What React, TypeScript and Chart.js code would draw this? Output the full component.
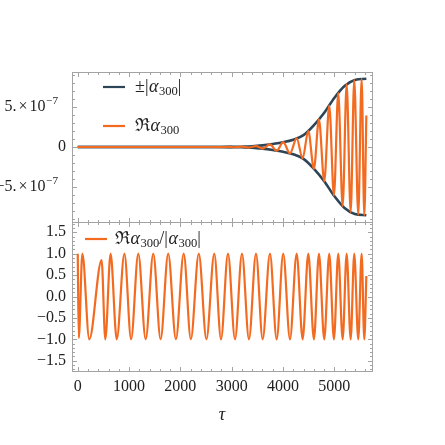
import React, { useEffect, useRef } from "react";
import { Chart, registerables } from "chart.js";
Chart.register(...registerables);

// ---------- data ----------
const TAU_MIN = -112;
const TAU_MAX = 5735;

// envelope |alpha_300|
const envTau = [0, 2800, 3000, 3200, 3400, 3600, 3800, 4000, 4200, 4400, 4600, 4800, 5000, 5200, 5400, 5625];
const envVal = [0, 0.005e-7, 0.02e-7, 0.04e-7, 0.08e-7, 0.2e-7, 0.38e-7, 0.6e-7, 0.92e-7, 1.48e-7, 2.7e-7, 4.25e-7, 6.15e-7, 7.65e-7, 8.4e-7, 8.55e-7];

// Re alpha_300 (turning points)
const reTau = [0, 2661, 2792, 2928, 3065, 3201, 3337, 3474, 3604, 3746, 3877, 4005, 4136, 4267, 4383, 4493, 4603, 4701, 4804, 4902, 4993, 5077, 5163, 5241, 5319, 5389, 5467, 5533, 5585, 5625];
const reVal = [0, 0, -0.005e-7, 0.01e-7, -0.03e-7, 0.04e-7, -0.07e-7, 0.12e-7, -0.2e-7, 0.33e-7, -0.47e-7, 0.61e-7, -0.8e-7, 1.08e-7, -1.42e-7, 2.0e-7, -2.72e-7, 3.45e-7, -4.28e-7, 5.2e-7, -6.08e-7, 6.75e-7, -7.4e-7, 7.85e-7, -8.15e-7, 8.38e-7, -8.47e-7, 8.52e-7, -8.54e-7, 3.96e-7];

// Re alpha_300 / |alpha_300| (turning points)
const ratioTau = [0, 20, 90, 225, 465, 537, 640, 760, 910, 1040, 1180, 1324, 1472, 1615, 1763, 1913, 2065, 2204, 2359, 2508, 2661, 2792, 2928, 3065, 3201, 3337, 3474, 3604, 3746, 3877, 4005, 4136, 4267, 4383, 4493, 4603, 4701, 4804, 4902, 4993, 5077, 5163, 5241, 5319, 5389, 5467, 5533, 5585, 5625];
const ratioVal = [1, -0.97, 1, -1, 0.85, -1, 1, -1, 1, -1, 1, -1, 1, -1, 1, -1, 1, -1, 1, -1, 1, -1, 1, -1, 1, -1, 1, -1, 1, -1, 1, -1, 1, -1, 1, -1, 1, -1, 1, -1, 1, -1, 1, -1, 1, -1, 1, -1, 0.48];

// ticks
const xMajor = [0, 1000, 2000, 3000, 4000, 5000];
const xMinor = [200, 400, 600, 800, 1200, 1400, 1600, 1800, 2200, 2400, 2600, 2800, 3200, 3400, 3600, 3800, 4200, 4400, 4600, 4800, 5200, 5400, 5600];
const xLabels = ["0", "1000", "2000", "3000", "4000", "5000"];

const topMajor = [-5e-7, 0, 5e-7];
const topMinor = [-9e-7, -8e-7, -7e-7, -6e-7, -4e-7, -3e-7, -2e-7, -1e-7, 1e-7, 2e-7, 3e-7, 4e-7, 6e-7, 7e-7, 8e-7, 9e-7];

const botMajor = [-1.5, -1, -0.5, 0, 0.5, 1, 1.5];
const botMinor = [-1.7, -1.6, -1.4, -1.3, -1.2, -1.1, -0.9, -0.8, -0.7, -0.6, -0.4, -0.3, -0.2, -0.1, 0.1, 0.2, 0.3, 0.4, 0.6, 0.7, 0.8, 0.9, 1.1, 1.2, 1.3, 1.4, 1.6, 1.7];
const botLabels = ["\u22121.5", "\u22121.0", "\u22120.5", "0.0", "0.5", "1.0", "1.5"];

// ---------- styling ----------
const DARK = "#2d4556";
const ORANGE = "#f36b21";
const FRAME = "#a3a3a3";
const TEXT = "#222222";
const FAM = '"Liberation Serif", "DejaVu Serif", serif';

type Seg = { t: string; it?: boolean; sub?: boolean; sup?: boolean; gap?: number };

function segFont(s: Seg, size: number) {
  const sz = s.sub || s.sup ? size * 0.7 : size;
  return `${s.it ? "italic " : ""}${sz}px ${FAM}`;
}
function mathWidth(ctx: CanvasRenderingContext2D, segs: Seg[], size: number) {
  let w = 0;
  for (const s of segs) {
    ctx.font = segFont(s, size);
    w += ctx.measureText(s.t).width + (s.gap || 0);
  }
  return w;
}
function drawMath(ctx: CanvasRenderingContext2D, x: number, y: number, segs: Seg[], size: number, align: string) {
  const w = mathWidth(ctx, segs, size);
  let cx = align === "left" ? x : align === "right" ? x - w : x - w / 2;
  ctx.textBaseline = "middle";
  ctx.textAlign = "left";
  ctx.fillStyle = TEXT;
  for (const s of segs) {
    ctx.font = segFont(s, size);
    const dy = s.sub ? size * 0.28 : s.sup ? -size * 0.38 : 0;
    ctx.fillText(s.t, cx, y + dy);
    cx += ctx.measureText(s.t).width + (s.gap || 0);
  }
}

const sub300: Seg = { t: "300", sub: true };
const alpha: Seg = { t: "\u03b1", it: true, gap: 0.5 };

const framePlugin = {
  id: "mframe",
  afterDatasetsDraw(chart: any, _args: any, opts: any) {
    const ctx: CanvasRenderingContext2D = chart.ctx;
    const a = chart.chartArea;
    const xs = chart.scales.x;
    const ys = chart.scales.y;
    ctx.save();
    ctx.strokeStyle = FRAME;
    ctx.lineWidth = 1;
    const L = Math.round(a.left) + 0.5, R = Math.round(a.right) + 0.5;
    const T = Math.round(a.top) + 0.5, B = Math.round(a.bottom) + 0.5;
    ctx.strokeRect(L, T, R - L, B - T);
    ctx.beginPath();
    const xt = (vals: number[], len: number) => {
      for (const v of vals) {
        const p = Math.round(xs.getPixelForValue(v)) + 0.5;
        ctx.moveTo(p, B); ctx.lineTo(p, B - len);
        ctx.moveTo(p, T); ctx.lineTo(p, T + len);
      }
    };
    const yt = (vals: number[], len: number) => {
      for (const v of vals) {
        const p = Math.round(ys.getPixelForValue(v)) + 0.5;
        ctx.moveTo(L, p); ctx.lineTo(L + len, p);
        ctx.moveTo(R, p); ctx.lineTo(R - len, p);
      }
    };
    xt(xMajor, 4.5); xt(xMinor, 2.5);
    yt(opts.yMajor, 4.5); yt(opts.yMinor, 2.5);
    ctx.stroke();

    // y labels
    opts.yLabels.forEach((lab: any, i: number) => {
      const p = ys.getPixelForValue(opts.yMajor[i]);
      drawMath(ctx, lab.x, p, lab.segs, 16, "right");
    });

    // x labels
    if (opts.xLabels) {
      xMajor.forEach((v, i) => {
        drawMath(ctx, xs.getPixelForValue(v), a.bottom + 16, [{ t: xLabels[i] }], 16, "center");
      });
      drawMath(ctx, (a.left + a.right) / 2, a.bottom + 44, [{ t: "\u03c4", it: true }], 18, "center");
    }

    // legend
    for (const item of opts.legend) {
      ctx.strokeStyle = item.color;
      ctx.lineWidth = 2.2;
      ctx.beginPath();
      ctx.moveTo(item.x0, item.y);
      ctx.lineTo(item.x1, item.y);
      ctx.stroke();
      drawMath(ctx, item.tx, item.y, item.segs, 18, "left");
    }
    ctx.restore();
  },
};

function pts(xs: number[], ys: number[], sign = 1) {
  return xs.map((x, i) => ({ x, y: sign * ys[i] }));
}

export default function App() {
  const topRef = useRef<HTMLCanvasElement>(null);
  const botRef = useRef<HTMLCanvasElement>(null);

  useEffect(() => {
    const common = (pad: any, yMin: number, yMax: number, mframe: any) => ({
      responsive: false,
      animation: false as const,
      devicePixelRatio: 1,
      layout: { padding: pad },
      scales: {
        x: { type: "linear" as const, min: TAU_MIN, max: TAU_MAX, display: false },
        y: { type: "linear" as const, min: yMin, max: yMax, display: false },
      },
      elements: { point: { radius: 0 }, line: { cubicInterpolationMode: "monotone" as const } },
      plugins: { legend: { display: false }, tooltip: { enabled: false }, mframe },
    });

    const expLabel = (neg: boolean): Seg[] => [
      { t: (neg ? "\u2212" : "") + "5.", gap: 2 },
      { t: "\u00d7", gap: 2 },
      { t: "10", gap: 0.5 },
      { t: "\u22127", sup: true },
    ];

    const top = new Chart(topRef.current!, {
      type: "line",
      data: {
        datasets: [
          { data: pts(reTau, reVal), borderColor: ORANGE, borderWidth: 2.2, order: 1, fill: false },
          { data: pts(envTau, envVal), borderColor: DARK, borderWidth: 2.6, order: 2, fill: false },
          { data: pts(envTau, envVal, -1), borderColor: DARK, borderWidth: 2.6, order: 3, fill: false },
        ],
      },
      options: common({ left: 72, right: 73, top: 72, bottom: 223 }, -9.4e-7, 9.4e-7, {
        yMajor: topMajor,
        yMinor: topMinor,
        yLabels: [
          { x: 58, segs: expLabel(true) },
          { x: 66, segs: [{ t: "0" }] },
          { x: 58, segs: expLabel(false) },
        ],
        xLabels: false,
        legend: [
          { x0: 103, x1: 125, y: 87, tx: 135, color: DARK, segs: [{ t: "\u00b1|", gap: 0.5 }, alpha, sub300, { t: "|" }] },
          { x0: 103, x1: 125, y: 126, tx: 135, color: ORANGE, segs: [{ t: "\u211c", gap: 0.5 }, alpha, sub300] },
        ],
      }) as any,
      plugins: [framePlugin],
    });

    const bot = new Chart(botRef.current!, {
      type: "line",
      data: {
        datasets: [{ data: pts(ratioTau, ratioVal), borderColor: ORANGE, borderWidth: 2.2, fill: false }],
      },
      options: common({ left: 72, right: 73, top: 222, bottom: 74 }, -1.74, 1.74, {
        yMajor: botMajor,
        yMinor: botMinor,
        yLabels: botLabels.map((t) => ({ x: 66, segs: [{ t }] })),
        xLabels: true,
        legend: [
          { x0: 85, x1: 107, y: 239, tx: 115, color: ORANGE, segs: [{ t: "\u211c", gap: 0.5 }, alpha, sub300, { t: "/|", gap: 0.5 }, alpha, sub300, { t: "|" }] },
        ],
      }) as any,
      plugins: [framePlugin],
    });

    return () => {
      top.destroy();
      bot.destroy();
    };
  }, []);

  const cstyle: React.CSSProperties = { position: "absolute", left: 0, top: 0, width: 445, height: 445 };
  return (
    <div style={{ position: "absolute", left: 0, top: 0, width: 445, height: 445, background: "#fff" }}>
      <canvas ref={topRef} width={445} height={445} style={cstyle} />
      <canvas ref={botRef} width={445} height={445} style={cstyle} />
    </div>
  );
}
